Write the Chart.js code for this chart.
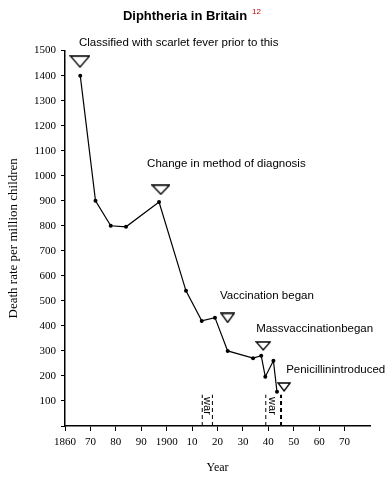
<!DOCTYPE html>
<html>
<head>
<meta charset="utf-8">
<script src="https://cdn.jsdelivr.net/npm/chart.js@4/dist/chart.umd.min.js"></script>
<style>
  html, body { margin: 0; padding: 0; background: #fff; }
  #wrap { width: 390px; height: 482px; }
</style>
</head>
<body>
<div id="wrap"><canvas id="chart"></canvas></div>
<script>
// Diphtheria death rate in Britain, deaths per million children
const YEARS  = [1866, 1872, 1878, 1884, 1897, 1907.6, 1913.8, 1919, 1924, 1934, 1937.2, 1938.8, 1942, 1943.4];
const DEATHS = [1400, 900, 800, 796, 895, 540, 420, 433, 300, 271, 281, 197, 261, 137];

// hollow triangle markers above the events
const MARK_YEARS  = [1865.9, 1897.7, 1924, 1938, 1946.2];
const MARK_VALUES = [1456, 944, 432, 320, 156];

// event notes
const NOTE_TEXT   = ['Classified with scarlet fever prior to this', 'Change in method of diagnosis',
                     'Vaccination began', 'Massvaccinationbegan', 'Penicillinintroduced'];
const NOTE_YEARS  = [1865.5, 1892.3, 1921, 1935.2, 1947];
const NOTE_VALUES = [1533, 1048, 521, 388, 224];

// war periods
const WAR_STARTS = [1914, 1939];
const WAR_ENDS   = [1918, 1945];
const WAR_TOP    = 125;

const X_TICKS       = [1860, 1870, 1880, 1890, 1900, 1910, 1920, 1930, 1940, 1950, 1960, 1970];
const X_TICK_LABELS = ['1860', '70', '80', '90', '1900', '10', '20', '30', '40', '50', '60', '70'];
const Y_TICKS       = [0, 100, 200, 300, 400, 500, 600, 700, 800, 900, 1000, 1100, 1200, 1300, 1400, 1500];

const SERIF = "'Liberation Serif', 'Times New Roman', serif";
const SANS  = "'Liberation Sans', Arial, sans-serif";
const MARK_SIZES = [[19, 11], [17, 9], [13, 9], [14, 8], [12, 8]];

function triangleMarker(w, h) {
  const c = document.createElement('canvas');
  c.width = w + 2; c.height = h + 2;
  const g = c.getContext('2d');
  g.fillStyle = '#fff';
  g.strokeStyle = '#000';
  g.lineWidth = 1.3;
  g.beginPath();
  g.moveTo(1, 1);
  g.lineTo(w + 1, 1);
  g.lineTo(w / 2 + 1, h + 1);
  g.closePath();
  g.fill();
  g.stroke();
  return c;
}

const warLines = [];
WAR_STARTS.forEach((s, i) => {
  [s, WAR_ENDS[i]].forEach((yr, j) => {
    warLines.push({
      type: 'line',
      data: [{ x: yr, y: 0 }, { x: yr, y: WAR_TOP }],
      borderColor: '#000',
      borderWidth: (i === 1 && j === 1) ? 2 : 1,
      borderDash: [4, 3],
      pointRadius: 0,
      showLine: true,
    });
  });
});

const notesPlugin = {
  id: 'notes',
  afterDatasetsDraw(chart) {
    const { ctx, scales: { x, y } } = chart;
    ctx.save();
    ctx.fillStyle = '#000';
    ctx.font = '11.5px ' + SANS;
    ctx.textBaseline = 'middle';
    ctx.textAlign = 'left';
    NOTE_TEXT.forEach((t, i) => {
      ctx.fillText(t, x.getPixelForValue(NOTE_YEARS[i]), y.getPixelForValue(NOTE_VALUES[i]));
    });

    // "war" labels, turned to read downwards
    ctx.font = '11px ' + SANS;
    ctx.textAlign = 'center';
    WAR_STARTS.forEach((s, i) => {
      const px = x.getPixelForValue((s + WAR_ENDS[i]) / 2 - (i ? 0.6 : 0));
      const py = y.getPixelForValue(80);
      ctx.save();
      ctx.translate(px, py);
      ctx.rotate(Math.PI / 2);
      ctx.fillText('war', 0, 0);
      ctx.restore();
    });

    // red reference mark after the title
    const tb = chart.titleBlock;
    ctx.font = 'bold 13px ' + SANS;
    const tw = ctx.measureText(chart.options.plugins.title.text).width;
    const cx = (tb.left + tb.right) / 2;
    ctx.font = '8px ' + SANS;
    ctx.fillStyle = '#cc0000';
    ctx.textAlign = 'left';
    ctx.fillText('12', cx + tw / 2 + 5, tb.top + 12);
    ctx.restore();
  },
};

const cfg = {
  type: 'scatter',
  data: {
    datasets: [
      ...warLines,
      {
        type: 'scatter',
        data: MARK_YEARS.map((yr, i) => ({ x: yr, y: MARK_VALUES[i] })),
        pointStyle: MARK_SIZES.map(([w, h]) => triangleMarker(w, h)),
        pointRadius: 6,
      },
      {
        type: 'line',
        data: YEARS.map((yr, i) => ({ x: yr, y: DEATHS[i] })),
        borderColor: '#000',
        borderWidth: 1.2,
        backgroundColor: '#000',
        pointRadius: 2,
        pointBorderWidth: 0,
        tension: 0,
        showLine: true,
      },
    ],
  },
  options: {
    responsive: true,
    maintainAspectRatio: false,
    animation: false,
    events: [],
    layout: { padding: { left: 0, right: 20, top: 0, bottom: 0 } },
    plugins: {
      legend: { display: false },
      tooltip: { enabled: false },
      title: {
        display: true,
        text: 'Diphtheria in Britain',
        color: '#000',
        font: { family: SANS, size: 13, weight: 'bold' },
        padding: { top: 9, bottom: 26 },
      },
    },
    scales: {
      x: {
        type: 'linear',
        min: 1860, max: 1980,
        afterBuildTicks: s => { s.ticks = X_TICKS.map(v => ({ value: v })); },
        afterFit: s => { s.height = 56; },
        ticks: {
          color: '#000',
          font: { family: SERIF, size: 11 },
          padding: 5,
          maxRotation: 0,
          autoSkip: false,
          callback: (v, i) => X_TICK_LABELS[i],
        },
        grid: { drawOnChartArea: false, drawTicks: true, tickLength: 5, color: '#000' },
        border: { color: '#000', width: 1.5 },
        title: {
          display: true,
          text: 'Year',
          color: '#000',
          font: { family: SERIF, size: 12 },
          padding: { top: 0, bottom: 7 },
        },
      },
      y: {
        type: 'linear',
        min: 0, max: 1500,
        afterBuildTicks: s => { s.ticks = Y_TICKS.map(v => ({ value: v })); },
        afterFit: s => { s.width = 65; },
        ticks: {
          color: '#000',
          font: { family: SERIF, size: 11 },
          padding: 5,
          autoSkip: false,
          callback: v => (v === 0 ? '' : v),
        },
        grid: { drawOnChartArea: false, drawTicks: true, tickLength: 4, color: '#000' },
        border: { color: '#000', width: 1.5 },
        title: {
          display: true,
          text: 'Death rate per million children',
          color: '#000',
          font: { family: SERIF, size: 13 },
          padding: { top: 6, bottom: 0 },
        },
      },
    },
  },
  plugins: [notesPlugin],
};

new Chart(document.getElementById('chart'), cfg);
</script>
</body>
</html>
